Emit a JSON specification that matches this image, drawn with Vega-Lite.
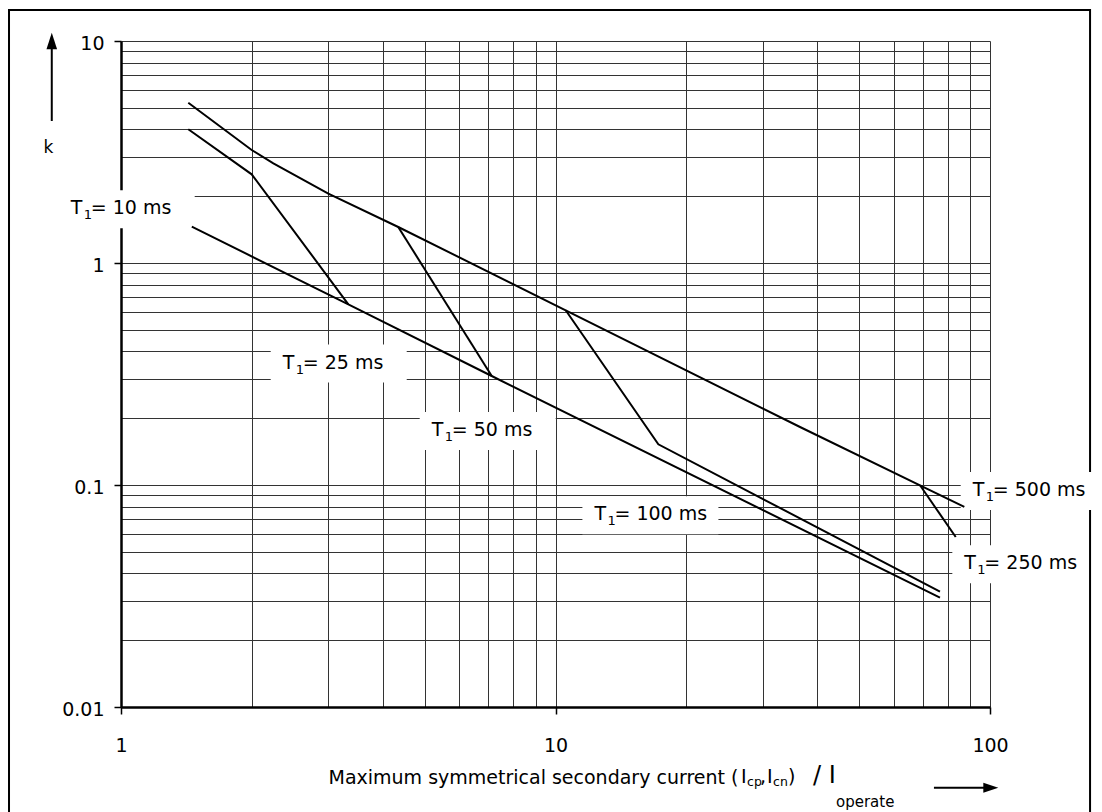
{
  "$schema": "https://vega.github.io/schema/vega-lite/v6.json",
  "width": 869,
  "height": 666,
  "padding": {"left": 8, "top": 8, "right": 5, "bottom": 0},
  "background": "white",
  "config": {
    "view": {"stroke": null},
    "font": "DejaVu Sans",
    "text": {"font": "DejaVu Sans", "color": "#000"}
  },
  "datasets": {
    "curves": [
      {"T1": "500 ms", "x": 1.4285, "k": 5.2735},
      {"T1": "500 ms", "x": 1.9989, "k": 3.2285},
      {"T1": "500 ms", "x": 2.2421, "k": 2.8132},
      {"T1": "500 ms", "x": 3.0001, "k": 2.0523},
      {"T1": "500 ms", "x": 4.3457, "k": 1.4529},
      {"T1": "500 ms", "x": 10.555, "k": 0.61227},
      {"T1": "500 ms", "x": 36.54, "k": 0.18251},
      {"T1": "500 ms", "x": 69.01, "k": 0.09969},
      {"T1": "500 ms", "x": 87.28, "k": 0.07962},
      {"T1": "250 ms", "x": 69.01, "k": 0.09969},
      {"T1": "250 ms", "x": 83.39, "k": 0.058314},
      {"T1": "100 ms", "x": 10.555, "k": 0.61227},
      {"T1": "100 ms", "x": 17.246, "k": 0.15258},
      {"T1": "100 ms", "x": 76.71, "k": 0.033071},
      {"T1": "50 ms", "x": 4.3457, "k": 1.4529},
      {"T1": "50 ms", "x": 7.1318, "k": 0.30974},
      {"T1": "25 ms", "x": 1.4285, "k": 4.0028},
      {"T1": "25 ms", "x": 1.9989, "k": 2.5087},
      {"T1": "25 ms", "x": 3.3359, "k": 0.65163},
      {"T1": "10 ms", "x": 1.4552, "k": 1.4574},
      {"T1": "10 ms", "x": 3.3359, "k": 0.65163},
      {"T1": "10 ms", "x": 7.1318, "k": 0.30974},
      {"T1": "10 ms", "x": 76.71, "k": 0.031083}
    ],
    "labels": [
      {"T1": "10 ms", "x": 0.766, "k": 1.657},
      {"T1": "25 ms", "x": 2.356, "k": 0.3347},
      {"T1": "50 ms", "x": 5.189, "k": 0.1663},
      {"T1": "100 ms", "x": 12.29, "k": 0.06935},
      {"T1": "250 ms", "x": 87.28, "k": 0.04173},
      {"T1": "500 ms", "x": 91.25, "k": 0.08923}
    ]
  },
  "layer": [
    {
      "data": {"values": [{}]},
      "mark": {"type": "rect", "filled": false, "color": "#000", "strokeWidth": 2},
      "encoding": {
        "x": {"datum": 0.5524},
        "x2": {"datum": 169.93},
        "y": {"datum": 13.795},
        "y2": {"datum": 0.003228}
      }
    },
    {
      "data": {"name": "labels"},
      "mark": {"type": "point", "shape": "M0,-0.2794H2V0.2794H0Z", "size": 18496, "filled": true, "fill": "white", "strokeWidth": 0, "opacity": 1, "xOffset": -12, "yOffset": -5},
      "encoding": {
        "x": {"field": "x", "type": "quantitative"},
        "y": {"field": "k", "type": "quantitative"}
      }
    },
    {
      "data": {"name": "curves"},
      "mark": {"type": "line", "color": "#000", "strokeWidth": 2},
      "encoding": {
        "x": {
          "field": "x", "type": "quantitative",
          "scale": {"type": "log", "domain": [1, 100], "nice": false},
          "axis": {
            "values": [1, 2, 3, 4, 5, 6, 7, 8, 9, 10, 20, 30, 40, 50, 60, 70, 80, 90, 100],
            "labelExpr": "datum.value == 1 ? '1' : datum.value == 10 ? '10' : datum.value == 100 ? '100' : ''",
            "labelFont": "DejaVu Sans", "labelFontSize": 19, "labelColor": "#000", "labelPadding": 22,
            "labelFlush": false, "labelOverlap": false, "labelBound": false,
            "grid": true, "gridColor": "#333", "gridWidth": 1, "gridOpacity": 1,
            "domainColor": "#000", "domainWidth": 2.5,
            "tickColor": "#000", "tickWidth": 1.5, "tickSize": 7,
            "tickOpacity": {"condition": {"test": "datum.value == 1 || datum.value == 10 || datum.value == 100", "value": 1}, "value": 0},
            "title": "Maximum symmetrical secondary current (",
            "titleFont": "DejaVu Sans", "titleFontSize": 19, "titleFontWeight": "normal", "titleColor": "#000",
            "titleX": 207, "titleY": 76, "titleAlign": "left", "titleBaseline": "alphabetic"
          }
        },
        "y": {
          "field": "k", "type": "quantitative",
          "scale": {"type": "log", "domain": [0.01, 10], "nice": false},
          "axis": {
            "values": [0.01, 0.02, 0.03, 0.04, 0.05, 0.06, 0.07, 0.08, 0.09, 0.1, 0.2, 0.3, 0.4, 0.5, 0.6, 0.7, 0.8, 0.9, 1, 2, 3, 4, 5, 6, 7, 8, 9, 10],
            "labelExpr": "datum.value == 0.01 ? '0.01' : datum.value == 0.1 ? '0.1' : datum.value == 1 ? '1' : datum.value == 10 ? '10' : ''",
            "labelFont": "DejaVu Sans", "labelFontSize": 19, "labelColor": "#000", "labelPadding": 10, "labelOffset": 2,
            "labelOverlap": false, "labelBound": false, "labelFlush": false,
            "grid": true, "gridColor": "#333", "gridWidth": 1, "gridOpacity": 1,
            "domainColor": "#000", "domainWidth": 2.5,
            "tickColor": "#000", "tickWidth": 1.5, "tickSize": 7,
            "tickOpacity": {"condition": {"test": "datum.value == 0.01 || datum.value == 0.1 || datum.value == 1 || datum.value == 10", "value": 1}, "value": 0},
            "title": "k",
            "titleFont": "DejaVu Sans", "titleFontSize": 17, "titleFontWeight": "normal", "titleColor": "#000",
            "titleAngle": 0, "titleX": -73, "titleY": 106, "titleAlign": "center", "titleBaseline": "middle"
          }
        },
        "detail": {"field": "T1"}
      }
    },
    {
      "data": {"name": "labels"},
      "mark": {"type": "text", "text": "T", "align": "left", "baseline": "alphabetic", "fontSize": 19},
      "encoding": {
        "x": {"field": "x", "type": "quantitative"},
        "y": {"field": "k", "type": "quantitative"}
      }
    },
    {
      "data": {"name": "labels"},
      "mark": {"type": "text", "text": "1", "align": "left", "baseline": "alphabetic", "fontSize": 13, "dx": 13, "dy": 5},
      "encoding": {
        "x": {"field": "x", "type": "quantitative"},
        "y": {"field": "k", "type": "quantitative"}
      }
    },
    {
      "data": {"name": "labels"},
      "mark": {"type": "text", "text": "=", "align": "left", "baseline": "alphabetic", "fontSize": 19, "dx": 20},
      "encoding": {
        "x": {"field": "x", "type": "quantitative"},
        "y": {"field": "k", "type": "quantitative"}
      }
    },
    {
      "data": {"name": "labels"},
      "mark": {"type": "text", "align": "left", "baseline": "alphabetic", "fontSize": 19, "dx": 42},
      "encoding": {
        "x": {"field": "x", "type": "quantitative"},
        "y": {"field": "k", "type": "quantitative"},
        "text": {"field": "T1"}
      }
    },
    {
      "data": {"values": [{}]},
      "mark": {"type": "text", "text": "I", "align": "left", "baseline": "alphabetic", "fontSize": 19},
      "encoding": {"x": {"datum": 26.73}, "y": {"datum": 0.004547}}
    },
    {
      "data": {"values": [{}]},
      "mark": {"type": "text", "text": "cp", "align": "left", "baseline": "alphabetic", "fontSize": 12.5},
      "encoding": {"x": {"datum": 27.59}, "y": {"datum": 0.004406}}
    },
    {
      "data": {"values": [{}]},
      "mark": {"type": "text", "text": ",", "align": "left", "baseline": "alphabetic", "fontSize": 19},
      "encoding": {"x": {"datum": 29.56}, "y": {"datum": 0.004547}}
    },
    {
      "data": {"values": [{}]},
      "mark": {"type": "text", "text": "I", "align": "left", "baseline": "alphabetic", "fontSize": 19},
      "encoding": {"x": {"datum": 30.67}, "y": {"datum": 0.004547}}
    },
    {
      "data": {"values": [{}]},
      "mark": {"type": "text", "text": "cn", "align": "left", "baseline": "alphabetic", "fontSize": 12.5},
      "encoding": {"x": {"datum": 31.67}, "y": {"datum": 0.004406}}
    },
    {
      "data": {"values": [{}]},
      "mark": {"type": "text", "text": ")", "align": "left", "baseline": "alphabetic", "fontSize": 19},
      "encoding": {"x": {"datum": 34.28}, "y": {"datum": 0.004547}}
    },
    {
      "data": {"values": [{}]},
      "mark": {"type": "text", "text": "/ I", "align": "left", "baseline": "alphabetic", "fontSize": 24},
      "encoding": {"x": {"datum": 39.14}, "y": {"datum": 0.004547}}
    },
    {
      "data": {"values": [{}]},
      "mark": {"type": "text", "text": "operate", "align": "left", "baseline": "alphabetic", "fontSize": 15},
      "encoding": {"x": {"datum": 44.21}, "y": {"datum": 0.003562}}
    },
    {
      "data": {"values": [{}]},
      "mark": {"type": "rule", "color": "#000", "strokeWidth": 2},
      "encoding": {"x": {"datum": 74.3}, "x2": {"datum": 97.43}, "y": {"datum": 0.004329}}
    },
    {
      "data": {"values": [{}]},
      "mark": {"type": "point", "shape": "M1,0L-1,-0.667L-1,0.667Z", "size": 225, "filled": true, "color": "#000", "opacity": 1},
      "encoding": {"x": {"datum": 100.42}, "y": {"datum": 0.004329}}
    },
    {
      "data": {"values": [{}]},
      "mark": {"type": "rule", "color": "#000", "strokeWidth": 2},
      "encoding": {"x": {"datum": 0.6929}, "y": {"datum": 4.362}, "y2": {"datum": 9.495}}
    },
    {
      "data": {"values": [{}]},
      "mark": {"type": "point", "shape": "M0,-1L0.64,1L-0.64,1Z", "size": 275, "filled": true, "color": "#000", "opacity": 1},
      "encoding": {"x": {"datum": 0.6929}, "y": {"datum": 10}}
    }
  ]
}
